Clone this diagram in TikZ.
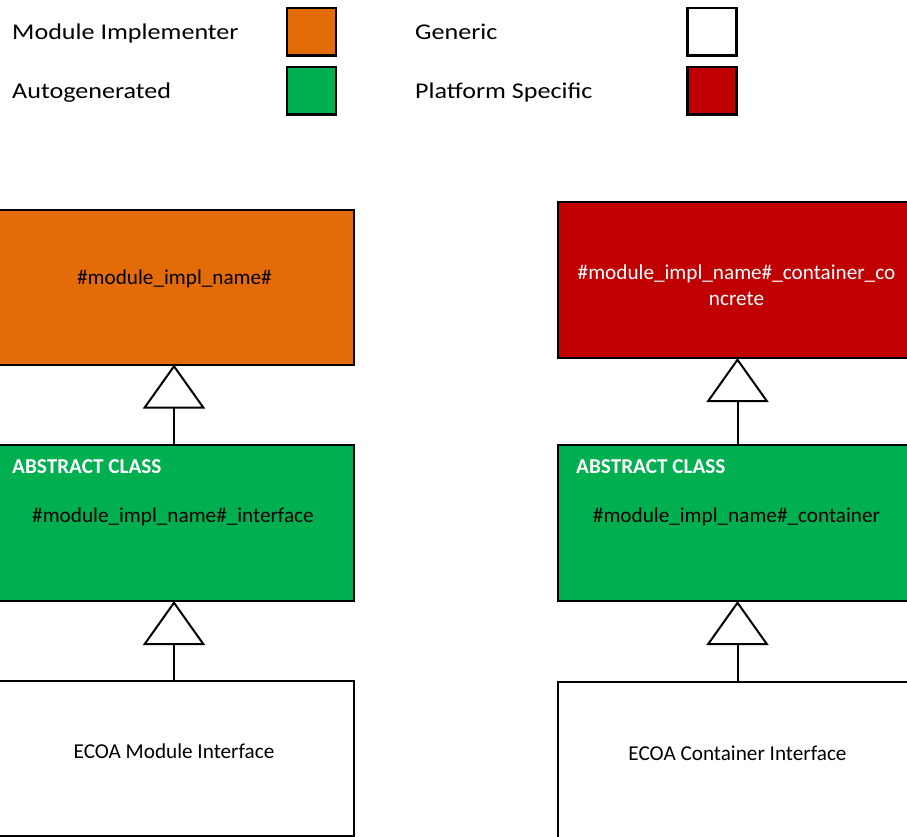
\documentclass[tikz,border=0pt]{standalone}
\usepackage{fontspec}
\usepackage{graphicx}
\setmainfont{Carlito}
\newfontfamily\legendfont[FakeStretch=1.16]{Carlito}
\usetikzlibrary{arrows.meta}
\definecolor{implorange}{HTML}{E36C09}
\definecolor{autogreen}{HTML}{00B050}
\definecolor{platred}{HTML}{C00000}
\tikzset{
  classbox/.style={draw=black, line width=2pt, rectangle, outer sep=0pt, inner sep=0pt},
  legendbox/.style={draw=black, line width=2.5pt, rectangle, outer sep=0pt, inner sep=0pt,
    minimum width=49pt, minimum height=47.5pt},
  legendtext/.style={anchor=base west, inner sep=0pt, font=\legendfont\fontsize{22.5}{27}\selectfont},
  boxtext/.style={anchor=base, inner sep=0pt, align=center, font=\fontsize{21.2}{25.8}\selectfont},
  abstracttext/.style={anchor=base west, inner sep=0pt, text=white, font=\bfseries\fontsize{21.2}{25.8}\selectfont},
  inherit/.style={line width=2pt, -{Triangle[open, length=44pt, width=62pt]}}
}
\begin{document}
\begin{tikzpicture}[x=1pt,y=-1pt]
\useasboundingbox (0,0) rectangle (907,836);
\clip (0,0) rectangle (907,836);
% legend
\node[legendtext] (lmi) at (12,39.5) {Module Implementer};
\node[legendtext] (lag) at (12,98.5) {Autogenerated};
\node[legendtext] (lge) at (415,39.5) {Generic};
\node[legendtext] (lps) at (415,98.5) {Platform Specific};
\node[legendbox, fill=implorange] (kmi) at (311.5,31.5) {};
\node[legendbox, fill=autogreen] (kag) at (311.5,90.5) {};
\node[legendbox, fill=white] (kge) at (712,31.5) {};
\node[legendbox, fill=platred] (kps) at (712,90.5) {};
% left column
\node[classbox, fill=implorange, minimum width=359pt, minimum height=155pt] (impl) at (174,287) {};
\node[classbox, fill=autogreen, minimum width=359pt, minimum height=156.5pt] (iface) at (174,522.75) {};
\node[classbox, fill=white, minimum width=359pt, minimum height=155pt] (modif) at (174,758) {};
% right column
\node[classbox, fill=platred, minimum width=360pt, minimum height=156.5pt] (concrete) at (737.5,279.75) {};
\node[classbox, fill=autogreen, minimum width=360pt, minimum height=156.5pt] (cont) at (737.5,522.75) {};
\node[classbox, fill=white, minimum width=360pt, minimum height=160pt] (contif) at (737.5,761.5) {};
% texts
\node[boxtext] (timpl) at (174.5,284.5) {\#module\_impl\_name\#};
\node[abstracttext] (tabs1) at (12,473) {ABSTRACT CLASS};
\node[boxtext] (tiface) at (173,522) {\#module\_impl\_name\#\_interface};
\node[boxtext] (tmodif) at (174,758) {ECOA Module Interface};
\node[boxtext, text=white] (tconc1) at (736.5,279) {\#module\_impl\_name\#\_container\_co};
\node[boxtext, text=white] (tconc2) at (736.5,305) {ncrete};
\node[abstracttext] (tabs2) at (576,473) {ABSTRACT CLASS};
\node[boxtext] (tcont) at (736.5,522) {\#module\_impl\_name\#\_container};
\node[boxtext] (tcontif) at (737.5,760) {ECOA Container Interface};
% inheritance
\draw[inherit] (iface.north) -- (impl.south);
\draw[inherit] (modif.north) -- (iface.south);
\draw[inherit] (cont.north) -- (concrete.south);
\draw[inherit] (contif.north) -- (cont.south);
\end{tikzpicture}
\end{document}
